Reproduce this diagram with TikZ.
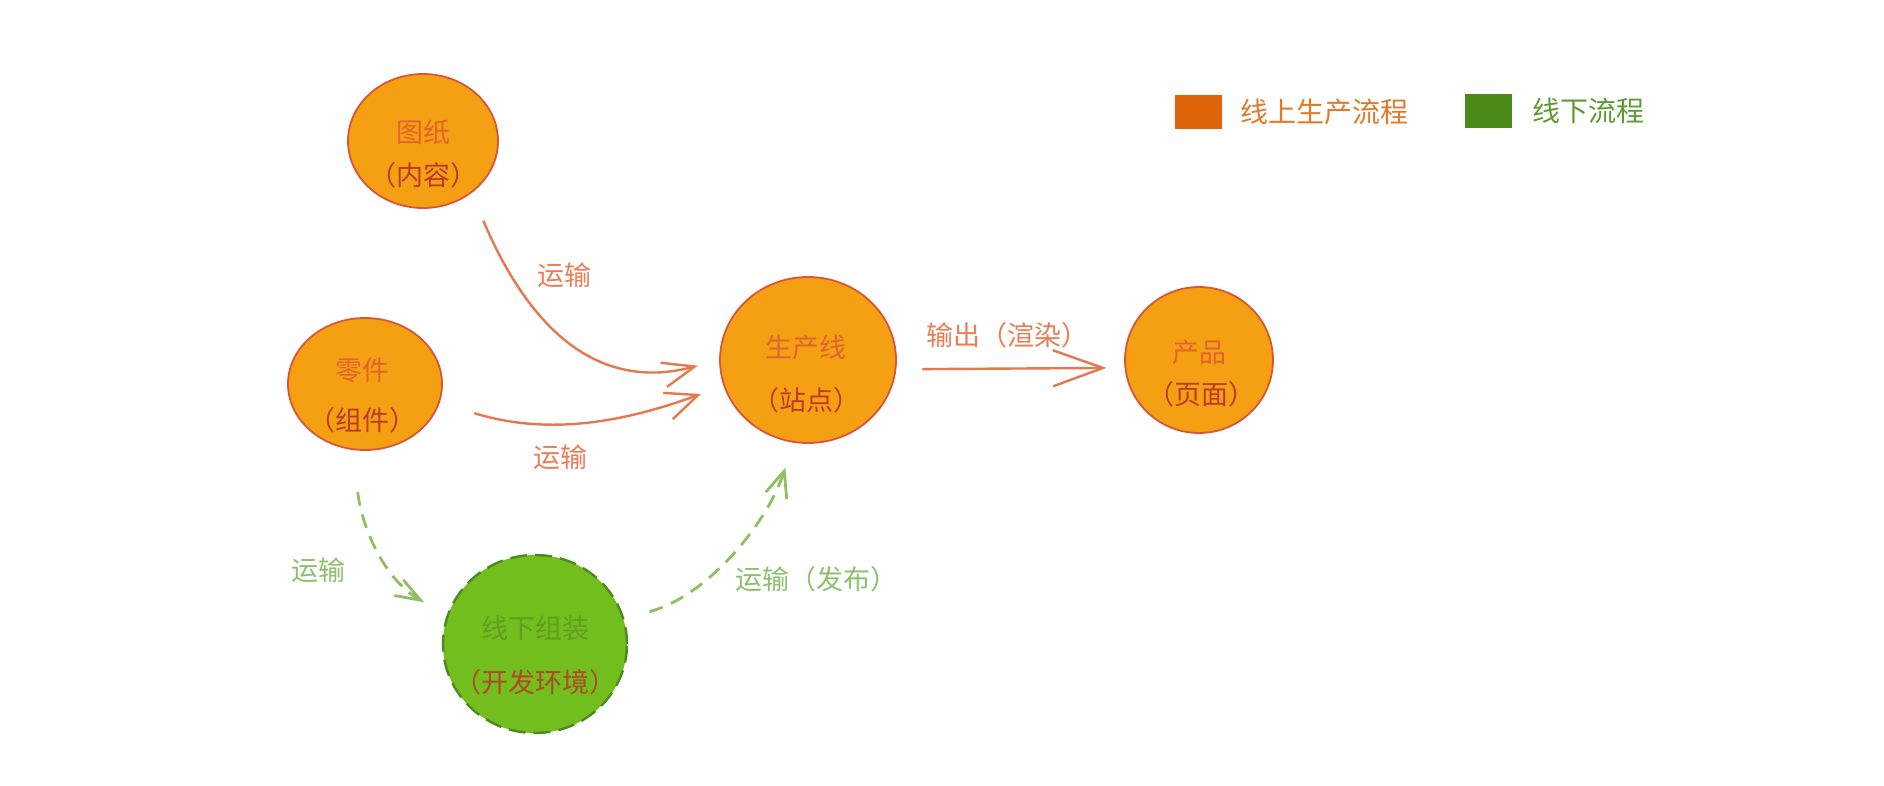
\documentclass[tikz,border=0pt]{standalone}
\usepackage{fontspec}
\usetikzlibrary{arrows.meta,positioning,shapes.geometric}
\newfontfamily\cjk{Noto Sans CJK SC}

\definecolor{onfill}{HTML}{F5A012}
\definecolor{onrim}{HTML}{D9553A}
\definecolor{ontexta}{HTML}{E0642E}
\definecolor{ontextb}{HTML}{BE3A28}
\definecolor{onarrow}{HTML}{E5784F}
\definecolor{onlabel}{HTML}{EA7D55}
\definecolor{offfill}{HTML}{72BE1C}
\definecolor{offrim}{HTML}{4E8A22}
\definecolor{offtext}{HTML}{5E9E22}
\definecolor{offarrow}{HTML}{8CC063}
\definecolor{offlabel}{HTML}{8CC06A}
\definecolor{keyon}{HTML}{E0640A}
\definecolor{keyontext}{HTML}{E07A2A}
\definecolor{keyoff}{HTML}{4A8A16}
\definecolor{keyofftext}{HTML}{5E9A30}

\tikzset{
  station/.style={ellipse, draw=onrim, fill=onfill, line width=0.9pt, inner sep=0pt},
  offstation/.style={ellipse, draw=offrim, fill=offfill, line width=1.2pt,
    dash pattern=on 8.5pt off 4pt, inner sep=0pt},
  txt/.style={font=\cjk\fontsize{13.5}{16}\selectfont, inner sep=0pt},
  namea/.style={txt, text=ontexta},
  nameb/.style={txt, text=ontextb},
  online/.style={draw=onarrow, line width=1.2pt},
  offline/.style={draw=offarrow, line width=1.4pt, dash pattern=on 7pt off 4.5pt},
  keybox/.style={minimum width=23.5pt, minimum height=17pt, inner sep=0pt},
  keytext/.style={font=\cjk\fontsize{14}{16}\selectfont, inner sep=0pt, anchor=west},
}

\begin{document}
\begin{tikzpicture}[x=0.5pt, y=-0.5pt]
    \useasboundingbox (0,0) rectangle (1884,786);

    % 图纸
    \node[station, minimum width=75pt, minimum height=67pt] (drawing) at (423,141) {};
    \node[namea] (drawing-a) at (423,132) {图纸};
    \node[nameb] (drawing-b) at (423,175) {（内容）};

    % 零件
    \node[station, minimum width=77pt, minimum height=66pt] (parts) at (365,384) {};
    \node[namea] (parts-a) at (362,370) {零件};
    \node[nameb] (parts-b) at (362,420) {（组件）};

    % 生产线
    \node[station, minimum width=88pt, minimum height=83pt] (line) at (808,360) {};
    \node[namea] (line-a) at (806,347) {生产线};
    \node[nameb] (line-b) at (806,400) {（站点）};

    % 产品
    \node[station, minimum width=74pt, minimum height=73pt] (product) at (1199,360) {};
    \node[namea] (product-a) at (1199,352) {产品};
    \node[nameb] (product-b) at (1201,394) {（页面）};

    % 线下组装
    \node[offstation, minimum width=92pt, minimum height=89pt] (assembly) at (535,644) {};
    \node[txt, text=offtext] (assembly-a) at (535,628) {线下组装};
    \node[txt, text=ontextb!85!offtext] (assembly-b) at (535,682) {（开发环境）};

    % 线上运输
    \draw[online, shorten <=15pt, shorten >=11pt, -{Straight Barb[length=16pt,width=12.5pt]}]
        (drawing.-47) to[out=-67, in=195, looseness=1.15] (line.180);
    \draw[online, shorten <=18pt, shorten >=12pt, -{Straight Barb[length=16pt,width=14pt]}]
        (parts.-14) to[out=-17, in=200] (line.197);
    \node[txt, text=onlabel] (ship-a) at (564,275) {运输};
    \node[txt, text=onlabel] (ship-b) at (560,457) {运输};

    % 输出
    \draw[online, shorten <=13pt, shorten >=9pt, -{Straight Barb[length=25pt,width=18pt]}]
        (line.-6) -- (product.186);
    \node[txt, text=onlabel] (render) at (1007,335) {输出（渲染）};

    % 线下运输
    \draw[offline, shorten <=21pt, shorten >=13pt, -{Straight Barb[length=12.5pt,width=9pt]}]
        (parts.-100) to[out=-84, in=150] (assembly.162);
    \draw[offline, shorten <=13pt, shorten >=13pt, -{Straight Barb[length=13pt,width=11pt]}]
        (assembly.16) to[out=15, in=-108, looseness=0.9] (line.-100);
    \node[txt, text=offlabel] (ship-c) at (318,570) {运输};
    \node[txt, text=offlabel] (publish) at (816,579) {运输（发布）};

    % 图例
    \node[keybox, fill=keyon] (key-on) at (1198,112) {};
    \node[keytext, text=keyontext, right=9pt of key-on] (key-on-t) {线上生产流程};
    \node[keybox, fill=keyoff] (key-off) at (1488,111) {};
    \node[keytext, text=keyofftext, right=10pt of key-off] (key-off-t) {线下流程};
\end{tikzpicture}
\end{document}
